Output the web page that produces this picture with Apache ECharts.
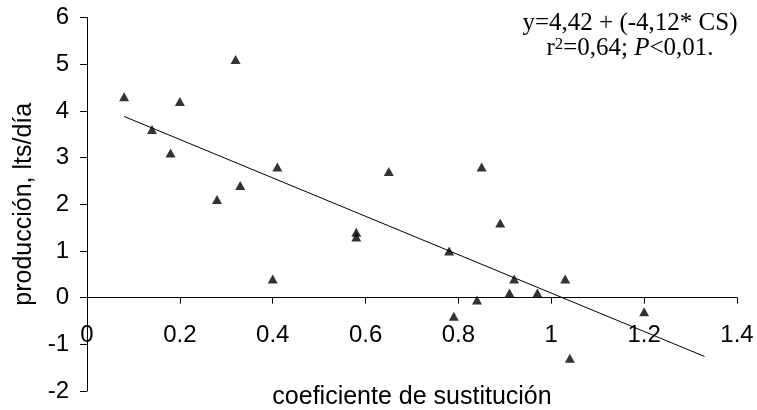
<!DOCTYPE html>
<html>
<head>
<meta charset="utf-8">
<script src="https://cdn.jsdelivr.net/npm/echarts@6/dist/echarts.min.js"></script>
<style>html,body{margin:0;padding:0;background:#fff}#c{width:757px;height:410px}</style>
</head>
<body>
<div id="c"></div>
<script>
// Data
var csValues = [0.08, 0.14, 0.18, 0.20, 0.28, 0.32, 0.33, 0.40, 0.41, 0.58, 0.58, 0.65, 0.78, 0.79, 0.84, 0.85, 0.89, 0.91, 0.92, 0.97, 1.03, 1.04, 1.20];
var productionValues = [4.3, 3.6, 3.1, 4.2, 2.1, 5.1, 2.4, 0.4, 2.8, 1.4, 1.3, 2.7, 1.0, -0.4, -0.05, 2.8, 1.6, 0.1, 0.4, 0.1, 0.4, -1.3, -0.3];
var trendX = [0.08, 1.33];
var trendY = [3.88, -1.26];
var xAxisName = 'coeficiente de sustitución';
var yAxisName = 'producción, lts/día';

var scatterData = csValues.map(function (x, i) { return [x, productionValues[i]]; });
var trendData = trendX.map(function (x, i) { return [x, trendY[i]]; });

var gridTop = 17.5, gridBottom = 19, H = 410;
var yMin = -2, yMax = 6;
// shift the x axis up so it sits on y = 0
var zeroOffset = -(0 - yMin) / (yMax - yMin) * (H - gridTop - gridBottom);

var chart = echarts.init(document.getElementById('c'));
var font = 'Liberation Sans, Arial, sans-serif';
var serif = 'Liberation Serif, Times New Roman, serif';
chart.setOption({
  animation: false,
  backgroundColor: '#fff',
  grid: { left: 87, right: 20, top: gridTop, bottom: gridBottom, containLabel: false, outerBoundsMode: 'none' },
  xAxis: {
    type: 'value', min: 0, max: 1.4, interval: 0.2,
    offset: zeroOffset,
    name: xAxisName, nameLocation: 'middle', nameGap: 87,
    nameTextStyle: { fontFamily: font, fontSize: 25, color: '#000' },
    axisLine: { onZero: false, lineStyle: { color: '#000', width: 1 } },
    axisTick: { show: true, inside: false, length: 6, lineStyle: { color: '#000' } },
    axisLabel: { fontFamily: font, fontSize: 24, color: '#000', margin: 26, showMinLabel: true, showMaxLabel: true },
    splitLine: { show: false }
  },
  yAxis: {
    type: 'value', min: yMin, max: yMax, interval: 1,
    name: yAxisName, nameLocation: 'middle', nameGap: 49, nameRotate: 90,
    nameTextStyle: { fontFamily: font, fontSize: 25, color: '#000' },
    axisLine: { show: true, onZero: false, lineStyle: { color: '#000', width: 1 } },
    axisTick: { show: true, inside: false, length: 7, lineStyle: { color: '#000' } },
    axisLabel: { fontFamily: font, fontSize: 24, color: '#000', margin: 18 },
    splitLine: { show: false }
  },
  graphic: [{
    type: 'text',
    x: 630, y: 11,
    style: {
      text: '{n|y=4,42 + (-4,12* CS)}\n{n|r}{s|2}{n|=0,64; }{i|P}{n|<0,01.}',
      textAlign: 'center',
      textVerticalAlign: 'top',
      fill: '#000',
      rich: {
        n: { fontFamily: serif, fontSize: 25, lineHeight: 25, color: '#000' },
        i: { fontFamily: serif, fontSize: 25, fontStyle: 'italic', lineHeight: 25, color: '#000' },
        s: { fontFamily: serif, fontSize: 17, lineHeight: 25, verticalAlign: 'top', color: '#000' }
      }
    }
  }],
  series: [{
    type: 'line',
    data: trendData,
    showSymbol: false,
    symbol: 'none',
    lineStyle: { color: '#000', width: 1 },
    z: 1
  }, {
    type: 'scatter',
    data: scatterData,
    symbol: 'triangle',
    symbolSize: [10, 9],
    itemStyle: { color: '#000' },
    z: 2
  }]
});
</script>
</body>
</html>
